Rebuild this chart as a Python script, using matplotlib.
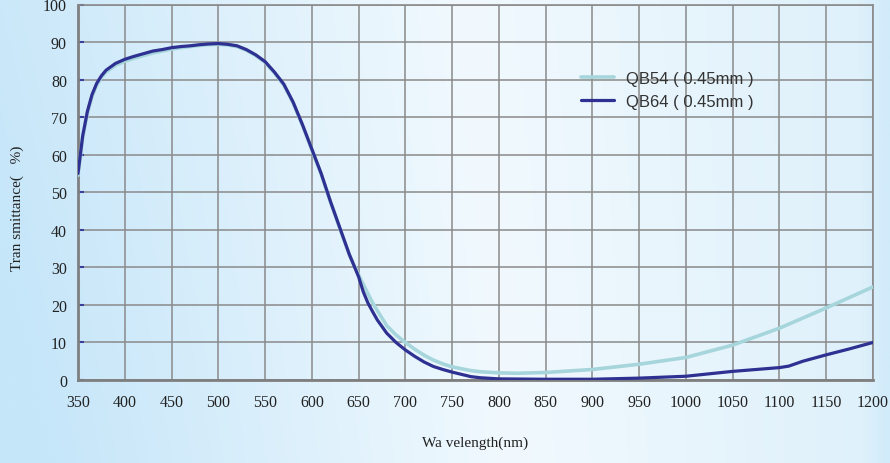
import numpy as np
import matplotlib
matplotlib.use('Agg')
import matplotlib.pyplot as plt
from matplotlib.colors import LinearSegmentedColormap

# wavelength (nm) and transmittance (%)
wl_qb64 = [350, 355, 360, 365, 370, 375, 380, 390, 400, 410, 420, 430, 440, 450,
           460, 470, 480, 490, 500, 510, 520, 530, 540, 550, 560, 570, 580, 590,
           600, 610, 620, 630, 640, 650, 655, 660, 665, 670, 680, 690, 700, 710,
           720, 730, 740, 750, 760, 770, 780, 800, 850, 900, 950, 1000, 1050,
           1100, 1110, 1125, 1150, 1175, 1200]
t_qb64 = [55.0, 65.0, 71.5, 76.0, 79.0, 81.0, 82.5, 84.3, 85.4, 86.2, 86.9, 87.6,
          88.0, 88.5, 88.8, 89.0, 89.3, 89.5, 89.6, 89.4, 89.0, 88.0, 86.6, 84.8,
          82.0, 78.8, 74.0, 68.0, 61.5, 55.0, 47.5, 40.5, 33.5, 27.5, 23.5, 20.5,
          18.2, 16.0, 12.5, 10.0, 8.0, 6.3, 4.8, 3.6, 2.8, 2.1, 1.5, 0.9, 0.6,
          0.3, 0.2, 0.2, 0.5, 1.0, 2.3, 3.3, 3.7, 5.0, 6.7, 8.3, 10.0]

wl_qb54 = [350, 355, 360, 365, 370, 375, 380, 390, 400, 410, 420, 430, 440, 450,
           460, 470, 480, 490, 500, 510, 520, 530, 540, 550, 560, 570, 580, 590,
           600, 610, 620, 630, 640, 650, 660, 664, 670, 680, 690, 700, 710, 720,
           730, 740, 750, 760, 770, 780, 800, 820, 850, 900, 950, 1000, 1050,
           1100, 1150, 1200]
t_qb54 = [54.5, 64.5, 71.0, 75.5, 78.6, 80.6, 82.0, 83.8, 84.9, 85.7, 86.4, 87.1,
          87.6, 88.1, 88.5, 88.8, 89.1, 89.3, 89.4, 89.2, 88.8, 87.8, 86.4, 84.6,
          81.8, 78.6, 73.8, 67.8, 61.3, 54.8, 47.3, 40.3, 33.4, 28.0, 23.0, 21.0,
          18.5, 14.5, 12.0, 10.0, 8.2, 6.6, 5.3, 4.3, 3.5, 3.0, 2.5, 2.2, 1.9,
          1.8, 2.0, 2.8, 4.2, 6.0, 9.3, 13.8, 19.2, 24.8]

x_ticks = list(range(350, 1201, 50))
y_ticks = list(range(0, 101, 10))

fig = plt.figure(figsize=(8.9, 4.64), dpi=100)

# light blue gradient background
bg = fig.add_axes([0, 0, 1, 1], zorder=0)
bg_cmap = LinearSegmentedColormap.from_list(
    'bg', [(0.0, '#c6e6f9'), (0.55, '#f1f9fe'), (0.97, '#dff1fb'), (1.0, '#d1ebfa')])
gx = np.linspace(0, 1, 400)
gy = np.linspace(0, 1, 100)
GX, GY = np.meshgrid(gx, gy)
grad = np.clip(GX + 0.12 * (GY - 0.5) * (1 - GX), 0, 1)
bg.imshow(grad, cmap=bg_cmap, aspect='auto', extent=[0, 1, 0, 1], origin='lower')
bg.axis('off')

ax = fig.add_axes([78 / 890, 1 - 381 / 464, 795 / 890, 375.5 / 464], zorder=1)
ax.set_facecolor('none')

ax.plot(wl_qb54, t_qb54, color='#a6d6dc', lw=2.6, label='QB54 ( 0.45mm )',
        solid_capstyle='round', zorder=3)
ax.plot(wl_qb64, t_qb64, color='#2e3192', lw=2.3, label='QB64 ( 0.45mm )',
        solid_capstyle='round', zorder=4)

ax.set_xlim(350, 1200)
ax.set_ylim(0, 100)
ax.set_xticks(x_ticks)
ax.set_yticks(y_ticks)
ax.set_xticklabels([str(v) for v in x_ticks], family='Liberation Serif', fontsize=11.5)
ax.set_yticklabels([str(v) for v in y_ticks], family='Liberation Serif', fontsize=11.5)
ax.tick_params(axis='x', length=0, pad=10, colors='#222222')
ax.tick_params(axis='y', direction='in', length=4, width=1.5, color='#3a3f9a',
               pad=8, labelcolor='#222222')

ax.grid(True, color='#8a8a8a', lw=1.1)
ax.set_axisbelow(True)
for side in ['left', 'bottom']:
    ax.spines[side].set_color('#7f7f7f')
    ax.spines[side].set_linewidth(2)
for side in ['top', 'right']:
    ax.spines[side].set_color('#8a8a8a')
    ax.spines[side].set_linewidth(1.2)

ax.set_xlabel('Wa velength(nm)', family='Liberation Serif', fontsize=11,
              color='#222222')
ax.xaxis.set_label_coords(0.5, -(437 - 381) / 375.5)
ax.set_ylabel('Tran smittance(   %)', family='Liberation Serif', fontsize=11,
              color='#222222')
ax.yaxis.set_label_coords(-(78 - 24) / 795, 0.46)

leg = ax.legend(loc='upper left', bbox_to_anchor=(581 / 890, 1 - 72 / 464),
                bbox_transform=fig.transFigure, frameon=False, borderpad=0,
                borderaxespad=0, handlelength=2.0, handletextpad=0.7,
                labelspacing=0.45, prop={'family': 'Liberation Sans', 'size': 12})
for t in leg.get_texts():
    t.set_color('#333333')

fig.savefig('out.png', dpi=100)
